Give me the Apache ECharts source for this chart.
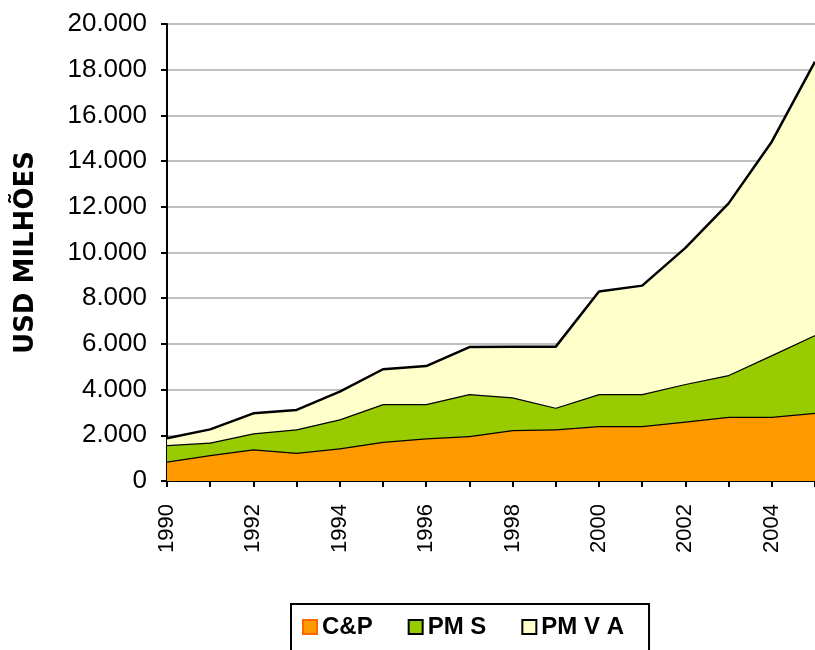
<!DOCTYPE html>
<html>
<head>
<meta charset="utf-8">
<script src="https://cdn.jsdelivr.net/npm/echarts@6/dist/echarts.min.js"></script>
<style>
  html, body { margin: 0; padding: 0; background: #fff; }
  #chart { width: 815px; height: 650px; }
</style>
</head>
<body>
<div id="chart"></div>
<script>
let years = ["1990", "1991", "1992", "1993", "1994", "1995", "1996", "1997",
  "1998", "1999", "2000", "2001", "2002", "2003", "2004", "2005"];
let cp = [850, 1140, 1390, 1240, 1430, 1720, 1870, 1970, 2230, 2260, 2410, 2410, 2600, 2810, 2810, 2990];
let pms = [725, 540, 700, 1020, 1270, 1650, 1500, 1840, 1430, 950, 1400, 1400, 1650, 1830, 2700, 3400];
let pmva = [295, 580, 870, 850, 1210, 1520, 1660, 2050, 2220, 2670, 4480, 4740, 5950, 7510, 9340, 11960];

let chartDom = document.getElementById("chart");
let myChart = echarts.init(chartDom);
let colors = ["#ff9900", "#99cc00", "#ffffcc"];
let font = "Liberation Sans, Arial, sans-serif";

function areaSeries(name, data, i) {
  return {
    name: name,
    type: "line",
    stack: "Total",
    data: data,
    symbol: "none",
    lineStyle: { color: "#000", width: 2.5 },
    areaStyle: { color: colors[i], opacity: 1 },
    itemStyle: { color: colors[i] },
    z: 2 + i,
  };
}

let option = {
  animation: false,
  grid: { left: 167, right: 0, top: 24, bottom: 169, containLabel: false },
  legend: {
    left: 291,
    top: 604,
    itemWidth: 14,
    itemHeight: 14,
    itemGap: 35,
    borderColor: "#000",
    borderWidth: 2,
    padding: [11, 25, 20, 11],
    textStyle: { fontFamily: font, fontSize: 24, fontWeight: "bold", color: "#000" },
    data: [
      { name: "C&P", icon: "rect", itemStyle: { color: colors[0], borderColor: "#ff6600", borderWidth: 2 } },
      { name: "PM S", icon: "rect", itemStyle: { color: colors[1], borderColor: "#000", borderWidth: 2 } },
      { name: "PM V A", icon: "rect", itemStyle: { color: colors[2], borderColor: "#000", borderWidth: 2 } },
    ],
  },
  xAxis: {
    type: "category",
    boundaryGap: false,
    data: years,
    axisLine: { lineStyle: { color: "#000", width: 2 } },
    axisTick: { show: true, interval: 0, length: 6, lineStyle: { color: "#000", width: 2 } },
    axisLabel: {
      interval: 1,
      rotate: 90,
      margin: 23,
      fontFamily: font,
      fontSize: 22,
      color: "#000",
    },
  },
  yAxis: {
    type: "value",
    min: 0,
    max: 20000,
    interval: 2000,
    name: "USD MILHÕES",
    nameLocation: "middle",
    nameGap: 128,
    nameRotate: 90,
    nameTextStyle: { fontFamily: "DejaVu Sans, sans-serif", fontSize: 26, fontWeight: "bold", color: "#000" },
    axisLine: { show: true, lineStyle: { color: "#000", width: 2 } },
    axisTick: { show: true, length: 6, lineStyle: { color: "#000", width: 2 } },
    axisLabel: {
      margin: 20,
      fontFamily: font,
      fontSize: 26,
      color: "#000",
      formatter: function (v) {
        return v.toString().replace(/\B(?=(\d{3})+(?!\d))/g, ".");
      },
    },
    splitLine: { lineStyle: { color: "#c0c0c0", width: 2 } },
  },
  series: [
    areaSeries("C&P", cp, 0),
    areaSeries("PM S", pms, 1),
    areaSeries("PM V A", pmva, 2),
  ],
};

option && myChart.setOption(option);
</script>
</body>
</html>
